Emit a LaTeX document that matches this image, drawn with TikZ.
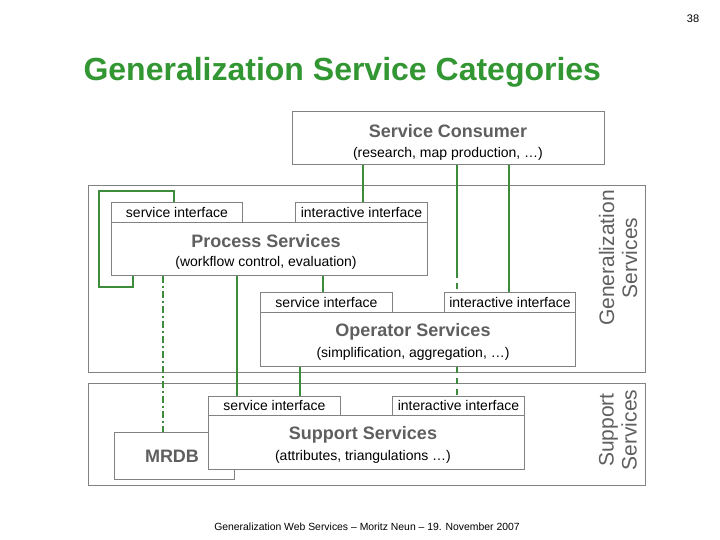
\documentclass[tikz,border=0pt]{standalone}
\usepackage{fontspec}
\setmainfont{Liberation Sans}
\begin{document}
\begin{tikzpicture}[x=1pt,y=-1pt,
  bx/.style={draw=boxgray,line width=0.9pt,fill=white,inner sep=0pt,anchor=north west},
  tab/.style={bx,font=\fontsize{14}{15}\selectfont,text=black},
  gl/.style={draw=grn,line width=1.6pt},
  gd/.style={gl,dash pattern=on 6pt off 5pt},
  gdd/.style={gl,dash pattern=on 7pt off 3pt on 2pt off 3pt},
  head/.style={font=\fontsize{18}{20}\bfseries\selectfont,text=headgray},
  sub/.style={font=\fontsize{14}{15}\selectfont,text=black}]
\definecolor{boxgray}{RGB}{130,130,130}
\definecolor{grn}{RGB}{60,140,60}
\definecolor{headgray}{RGB}{95,95,95}
\definecolor{titlegreen}{RGB}{50,150,50}
\useasboundingbox (0,0) rectangle (720,540);
\node[font=\fontsize{11}{12}\selectfont] (pg) at (693,19) {38};
\node[font=\fontsize{32}{34}\bfseries\selectfont,text=titlegreen,anchor=west] (title) at (80,72) {Generalization Service Categories};
% outer boxes
\node[bx,minimum width=557pt,minimum height=187pt] (gen) at (88,185) {};
\node[bx,minimum width=557pt,minimum height=102pt] (sup) at (88,383) {};
\node[font=\fontsize{21}{23}\selectfont,text=headgray,rotate=90,align=center] (genl) at (618,258) {Generalization\\Services};
\node[font=\fontsize{21}{23}\selectfont,text=headgray,rotate=90,align=center] (supl) at (618,430) {Support\\Services};
% consumer
\node[bx,minimum width=312pt,minimum height=53pt] (cons) at (292,111) {};
\node[font=\fontsize{18}{20}\bfseries\selectfont,text=headgray] (consl) at (448,131) {Service Consumer};
\node[sub] (conss) at (448,154) {(research, map production, \dots)};
% process
\node[tab,minimum width=131pt,minimum height=20pt] (pst) at (111,202) {service interface};
\node[tab,minimum width=132pt,minimum height=20pt] (pit) at (295,202) {interactive interface};
\node[bx,minimum width=316pt,minimum height=53pt] (proc) at (111,222) {};
\node[head] (procl) at (266,241) {Process Services};
\node[sub] (procs) at (266,263) {(workflow control, evaluation)};
% operator
\node[tab,minimum width=132pt,minimum height=20pt] (ost) at (260,292) {service interface};
\node[tab,minimum width=131pt,minimum height=20pt] (oit) at (444,292) {interactive interface};
\node[bx,minimum width=315pt,minimum height=54pt] (op) at (260,312) {};
\node[head] (opl) at (413,332) {Operator Services};
\node[sub] (ops) at (413,354) {(simplification, aggregation, \dots)};
% MRDB and support
\node[bx,minimum width=120pt,minimum height=47pt] (mrdb) at (114,432) {};
\node[font=\fontsize{18}{20}\bfseries\selectfont,text=headgray] (mrdbl) at (172,456) {MRDB};
\node[tab,minimum width=132pt,minimum height=19pt] (sst) at (208,396) {service interface};
\node[tab,minimum width=132pt,minimum height=19pt] (sit) at (392,396) {interactive interface};
\node[bx,minimum width=316pt,minimum height=54pt] (supp) at (208,415) {};
\node[head] (suppl) at (363,435) {Support Services};
\node[sub] (supps) at (363,457) {(attributes, triangulations \dots)};
\node[font=\fontsize{10.4}{11}\selectfont] (foot) at (367,527) {Generalization Web Services -- Moritz Neun -- 19. November 2007};
% connectors
\draw[gl] (174,0 |- pst.north) -- (174,191) -- (99,191) -- (99,287) -- (133,287) -- (133,0 |- proc.south);
\draw[gl] (363,0 |- cons.south) -- (363,0 |- pit.north);
\draw[gl] (457,0 |- cons.south) -- (457,272);
\draw[gd] (457,272) -- (457,0 |- oit.north);
\draw[gl] (509,0 |- cons.south) -- (509,0 |- oit.north);
\draw[gl] (323,0 |- proc.south) -- (323,0 |- ost.north);
\draw[gl] (237,0 |- proc.south) -- (237,0 |- sst.north);
\draw[gl] (300,0 |- op.south) -- (300,0 |- sst.north);
\draw[gd] (457,0 |- op.south) -- (457,0 |- sit.north);
\draw[gdd] (163,0 |- proc.south) -- (163,0 |- mrdb.north);
\end{tikzpicture}
\end{document}
